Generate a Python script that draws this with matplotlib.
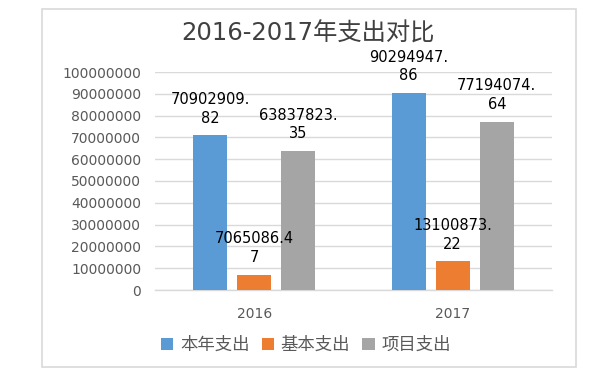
import matplotlib
matplotlib.use("Agg")
import matplotlib.pyplot as plt
from matplotlib.patches import Rectangle
import numpy as np

plt.rcParams['font.family'] = ['DejaVu Sans', 'Noto Sans CJK SC']

categories = ["2016", "2017"]
series_names = ["本年支出", "基本支出", "项目支出"]
values_total = [70902909.82, 90294947.86]
values_basic = [7065086.47, 13100873.22]
values_project = [63837823.35, 77194074.64]
label_total = ["70902909.\n82", "90294947.\n86"]
label_basic = ["7065086.4\n7", "13100873.\n22"]
label_project = ["63837823.\n35", "77194074.\n64"]
yticks = [0, 10000000, 20000000, 30000000, 40000000, 50000000,
          60000000, 70000000, 80000000, 90000000, 100000000]
colors = ["#5b9bd5", "#ed7d31", "#a5a5a5"]

fig = plt.figure(figsize=(6, 3.74), dpi=100)
fig.patches.append(Rectangle((42/600, 1-367/374), (576-42)/600, (367-9)/374,
                             transform=fig.transFigure, fill=False,
                             edgecolor="#d9d9d9", linewidth=1.2))
ax = fig.add_axes([155/600, 1-290/374, (552-155)/600, (290-72)/374])

x = np.arange(len(categories))
w = 0.171
off = 0.222
series = [values_total, values_basic, values_project]
labels = [label_total, label_basic, label_project]
for i, (vals, labs, c, name) in enumerate(zip(series, labels, colors, series_names)):
    pos = x + (i - 1) * off
    ax.bar(pos, vals, width=w, color=c, label=name, zorder=3)
    for p, v, lab in zip(pos, vals, labs):
        ax.annotate(lab, (p, v), xytext=(0, 7), textcoords="offset points",
                    ha="center", va="bottom", fontsize=10.5, color="#000000",
                    linespacing=1.3, annotation_clip=False, zorder=5)

ax.set_xlim(-0.5, 1.5)
ax.set_ylim(0, 100000000)
ax.set_yticks(yticks)
ax.set_yticklabels([str(t) for t in yticks], fontsize=10, color="#595959")
ax.set_xticks(x)
ax.set_xticklabels(categories, fontsize=10, color="#595959")
ax.tick_params(axis="y", length=0, pad=10)
ax.tick_params(axis="x", length=0, pad=12)
ax.grid(axis="y", color="#d9d9d9", linewidth=1, zorder=0)
for s in ["top", "right", "left"]:
    ax.spines[s].set_visible(False)
ax.spines["bottom"].set_color("#d9d9d9")
ax.spines["bottom"].set_linewidth(1)

fig.text(308/600, 1-34/374, "2016-2017年支出对比", ha="center", va="center",
         fontsize=17.5, color="#404040")

leg = fig.legend(loc="center", bbox_to_anchor=(306/600, 1-345/374), ncol=3,
                 frameon=False, handlelength=0.7, handleheight=0.7,
                 handletextpad=0.4, columnspacing=0.7,
                 prop={'family': ['Noto Sans CJK SC', 'DejaVu Sans'], 'size': 12.5})
for t in leg.get_texts():
    t.set_color("#595959")

fig.savefig("out.png", dpi=100)
